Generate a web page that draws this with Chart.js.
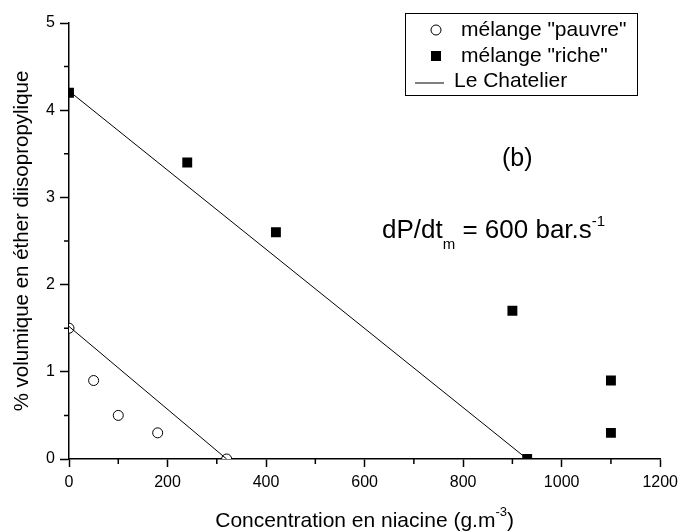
<!DOCTYPE html>
<html>
<head>
<meta charset="utf-8">
<script src="https://cdn.jsdelivr.net/npm/chart.js@4/dist/chart.umd.min.js"></script>
<style>
  html, body { margin: 0; padding: 0; background: #fff; }
  #wrap { width: 684px; height: 532px; }
</style>
</head>
<body>
<div id="wrap"><canvas id="graphe"></canvas></div>
<script>
// ──────────────────────────────────────────────
//  Données
// ──────────────────────────────────────────────

const pauvreX = [0, 50, 100, 180, 320];
const pauvreY = [1.5, 0.9, 0.5, 0.3, 0];

const richeX = [0, 240, 420, 900, 930, 1100, 1100];
const richeY = [4.2, 3.4, 2.6, 1.7, 0, 0.9, 0.3];

// droites de Le Chatelier
const chatPauvreX = [0, 320];
const chatPauvreY = [1.52, 0];
const chatRicheX = [0, 930];
const chatRicheY = [4.22, 0];

const xTicks = [0, 200, 400, 600, 800, 1000, 1200];
const yTicks = [0, 1, 2, 3, 4, 5];

const legendLabels = ['mélange "pauvre"', 'mélange "riche"', 'Le Chatelier'];

const FONT = '"Liberation Sans", Arial, sans-serif';

const pts = (xs, ys) => xs.map((x, i) => ({ x, y: ys[i] }));

// ──────────────────────────────────────────────
//  Plugin : ticks mineurs, titres, légende, annotations
// ──────────────────────────────────────────────

const decor = {
  id: 'decor',
  afterDraw(chart) {
    const { ctx, scales: { x, y } } = chart;
    const x0 = x.getPixelForValue(0);
    const y0 = y.getPixelForValue(0);
    ctx.save();
    ctx.strokeStyle = '#000';
    ctx.lineWidth = 1.5;

    // ticks mineurs
    ctx.beginPath();
    for (let v = 100; v < 1200; v += 200) {
      const px = x.getPixelForValue(v);
      ctx.moveTo(px, y0); ctx.lineTo(px, y0 + 5);
    }
    for (let v = 0.5; v < 5; v += 1) {
      const py = y.getPixelForValue(v);
      ctx.moveTo(x0, py); ctx.lineTo(x0 - 5, py);
    }
    ctx.stroke();

    ctx.fillStyle = '#000';
    ctx.textBaseline = 'alphabetic';

    // titre axe x avec exposant
    const t1 = 'Concentration en niacine (g.m';
    const sup = '-3';
    const t2 = ')';
    ctx.font = '21px ' + FONT;
    const w1 = ctx.measureText(t1).width;
    const w3 = ctx.measureText(t2).width;
    ctx.font = '13px ' + FONT;
    const w2 = ctx.measureText(sup).width;
    const cx = (x.left + x.right) / 2;
    let sx = cx - (w1 + w2 + w3) / 2;
    ctx.textAlign = 'left';
    ctx.font = '21px ' + FONT;
    ctx.fillText(t1, sx, 527);
    ctx.font = '13px ' + FONT;
    ctx.fillText(sup, sx + w1, 516);
    ctx.font = '21px ' + FONT;
    ctx.fillText(t2, sx + w1 + w2, 527);

    // titre axe y
    ctx.save();
    ctx.translate(28, (y.top + y.bottom) / 2);
    ctx.rotate(-Math.PI / 2);
    ctx.textAlign = 'center';
    ctx.font = '20.5px ' + FONT;
    ctx.fillText('% volumique en éther diisopropylique', 0, 0);
    ctx.restore();

    // (b)
    ctx.font = '25px ' + FONT;
    ctx.textAlign = 'left';
    ctx.fillText('(b)', 502, 166);

    // dP/dt_m = 600 bar.s-1
    let ax = 382;
    const ab = 238;
    ctx.font = '26px ' + FONT;
    ctx.fillText('dP/dt', ax, ab);
    ax += ctx.measureText('dP/dt').width;
    ctx.font = '15px ' + FONT;
    ctx.fillText('m', ax, ab + 11);
    ax += ctx.measureText('m').width;
    ctx.font = '26px ' + FONT;
    ctx.fillText(' = 600 bar.s', ax, ab);
    ax += ctx.measureText(' = 600 bar.s').width;
    ctx.font = '15px ' + FONT;
    ctx.fillText('-1', ax, ab - 12);

    // légende
    ctx.lineWidth = 1;
    ctx.strokeRect(405.5, 13.5, 232, 82);
    ctx.font = '21px ' + FONT;
    ctx.textBaseline = 'middle';
    ctx.beginPath();
    ctx.arc(436, 30, 5, 0, Math.PI * 2);
    ctx.stroke();
    ctx.fillText(legendLabels[0], 461, 30);
    ctx.fillRect(431, 51, 10, 10);
    ctx.fillText(legendLabels[1], 461, 56);
    ctx.beginPath();
    ctx.moveTo(415, 83); ctx.lineTo(444, 83);
    ctx.stroke();
    ctx.fillText(legendLabels[2], 454, 81);

    ctx.restore();
  }
};

// ──────────────────────────────────────────────
//  Graphique
// ──────────────────────────────────────────────

const ligne = (data) => ({
  data,
  showLine: true,
  borderColor: '#000',
  borderWidth: 1,
  pointRadius: 0,
  clip: 0,
});

new Chart(document.getElementById('graphe'), {
  type: 'scatter',
  data: {
    datasets: [
      ligne(pts(chatRicheX, chatRicheY)),
      ligne(pts(chatPauvreX, chatPauvreY)),
      {
        label: legendLabels[0],
        data: pts(pauvreX, pauvreY),
        pointStyle: 'circle',
        pointRadius: 5,
        borderColor: '#000',
        borderWidth: 1,
        backgroundColor: '#fff',
        clip: 0,
      },
      {
        label: legendLabels[1],
        data: pts(richeX, richeY),
        pointStyle: 'rect',
        pointRadius: 7,
        borderColor: '#000',
        borderWidth: 0,
        backgroundColor: '#000',
        clip: 0,
      },
    ],
  },
  options: {
    responsive: true,
    maintainAspectRatio: false,
    animation: false,
    events: [],
    layout: { padding: { left: 0, right: 18, top: 23, bottom: 0 } },
    plugins: { legend: { display: false }, tooltip: { enabled: false } },
    scales: {
      x: {
        type: 'linear',
        min: 0,
        max: 1200,
        afterFit: (s) => { s.height = 73; },
        afterBuildTicks: (s) => { s.ticks = xTicks.map(v => ({ value: v })); },
        ticks: { color: '#000', padding: 6, font: { family: FONT, size: 16 }, callback: (v) => String(v) },
        grid: { drawOnChartArea: false, drawTicks: true, tickLength: 8, tickWidth: 1.5, tickColor: '#000' },
        border: { display: true, color: '#000', width: 1.5 },
      },
      y: {
        type: 'linear',
        min: 0,
        max: 5,
        afterFit: (s) => { s.width = 69; },
        afterBuildTicks: (s) => { s.ticks = yTicks.map(v => ({ value: v })); },
        ticks: { color: '#000', padding: 5, font: { family: FONT, size: 16 }, callback: (v) => String(v) },
        grid: { drawOnChartArea: false, drawTicks: true, tickLength: 9, tickWidth: 1.5, tickColor: '#000' },
        border: { display: true, color: '#000', width: 1.5 },
      },
    },
  },
  plugins: [decor],
});
</script>
</body>
</html>
